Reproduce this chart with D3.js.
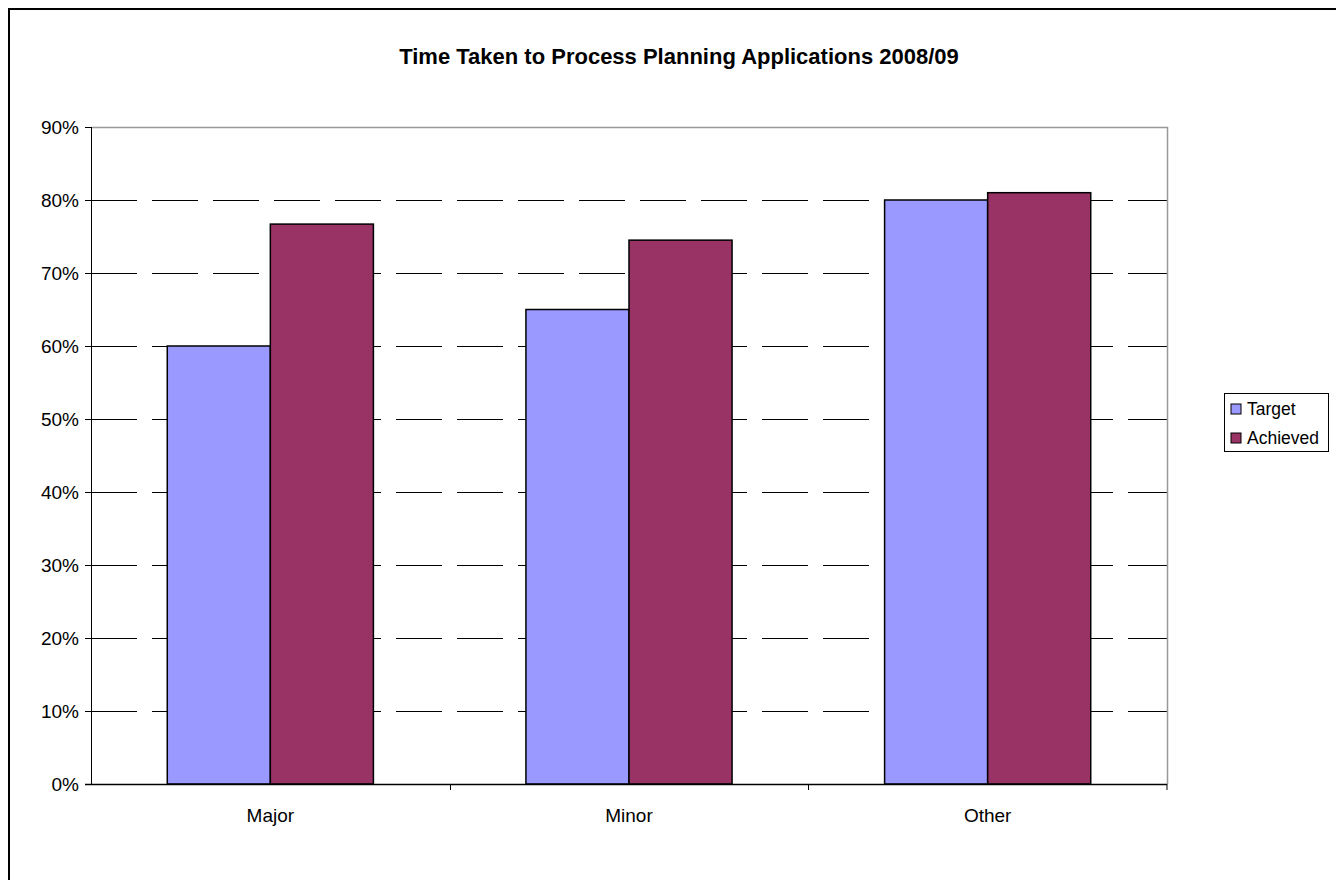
<!DOCTYPE html>
<html>
<head>
<meta charset="utf-8">
<script src="https://cdn.jsdelivr.net/npm/d3@7"></script>
<style>
  body { margin: 0; background: #fff; }
  svg { font-family: "Liberation Sans", Arial, sans-serif; }
</style>
</head>
<body>
<svg id="chart-svg" width="1336" height="880"></svg>
<script>
var categories = ["Major", "Minor", "Other"];
var seriesNames = ["Target", "Achieved"];
var target = [0.60, 0.65, 0.80];
var achieved = [0.767, 0.745, 0.81];
var yTicks = [0, 0.1, 0.2, 0.3, 0.4, 0.5, 0.6, 0.7, 0.8, 0.9];
var colors = ["#9999ff", "#993366"];

var svg = d3.select("#chart-svg");

// outer chart border (only top/left visible in the crop)
svg.append("path")
    .attr("d", "M9,880 V9 H1336")
    .attr("fill", "none")
    .attr("stroke", "#000")
    .attr("stroke-width", 2);

svg.append("text")
    .attr("x", 679)
    .attr("y", 64)
    .attr("text-anchor", "middle")
    .attr("font-size", 22)
    .attr("font-weight", "bold")
    .text("Time Taken to Process Planning Applications 2008/09");

var pLeft = 91, pRight = 1167, pTop = 127, pBottom = 784;

var x = d3.scaleBand().domain(categories).range([pLeft, pRight]);
var xs = d3.scaleBand().domain(seriesNames).range([0, x.bandwidth()]).paddingOuter(0.74);
var y = d3.scaleLinear().domain([0, 0.9]).range([pBottom, pTop]);

var rows = categories.map((c, i) => ({ cat: c, values: [target[i], achieved[i]] }));

// grid
svg.append("g").selectAll("line")
    .data(yTicks.filter(t => t > 0 && t < 0.9))
    .enter().append("line")
    .attr("x1", pLeft).attr("x2", pRight)
    .attr("y1", d => Math.round(y(d)) + 0.5).attr("y2", d => Math.round(y(d)) + 0.5)
    .attr("stroke", "#000")
    .attr("stroke-dasharray", "46,15");

// plot border top/right
svg.append("path")
    .attr("d", `M${pLeft},${pTop + 0.5} H${pRight + 0.5} V${pBottom}`)
    .attr("fill", "none")
    .attr("stroke", "#999")
    .attr("stroke-width", 1.5);

// bars
var groups = svg.append("g").selectAll("g")
    .data(rows).enter().append("g")
    .attr("transform", d => `translate(${x(d.cat)},0)`);

groups.selectAll("rect")
    .data(d => d.values.map((v, j) => ({ key: seriesNames[j], v: v, j: j })))
    .enter().append("rect")
    .attr("x", d => xs(d.key))
    .attr("width", xs.bandwidth())
    .attr("y", d => y(d.v))
    .attr("height", d => y(0) - y(d.v))
    .attr("fill", d => colors[d.j])
    .attr("stroke", "#000")
    .attr("stroke-width", 1.5);

// y axis
var yAxis = d3.axisLeft(y)
    .tickValues(yTicks)
    .tickFormat(d3.format(".0%"))
    .tickSize(6)
    .tickPadding(6);
var gy = svg.append("g").attr("transform", `translate(${pLeft},0)`).call(yAxis);
gy.select(".domain").attr("stroke", "#000").attr("d", `M0.5,${pTop}V${pBottom}`);
gy.selectAll(".tick line").attr("stroke", "#000");
gy.selectAll("text").attr("font-size", 19).attr("fill", "#000").attr("dy", "0.35em")
    .attr("font-family", "'Liberation Sans', Arial, sans-serif");

// x axis
var xAxis = d3.axisBottom(x).tickSize(0).tickPadding(25);
var gx = svg.append("g").attr("transform", `translate(0,${pBottom})`).call(xAxis);
gx.select(".domain").attr("stroke", "#000").attr("stroke-width", 1.5).attr("d", `M${pLeft - 6},0.5H${pRight}`);
gx.selectAll("text").attr("font-size", 19).attr("fill", "#000").attr("dy", "0.71em")
    .attr("font-family", "'Liberation Sans', Arial, sans-serif");
// category separator ticks
gx.append("g").selectAll("line")
    .data(categories.slice(1).concat(["_end"]))
    .enter().append("line")
    .attr("x1", d => d === "_end" ? pRight : Math.round(x(d)) + 0.5)
    .attr("x2", d => d === "_end" ? pRight : Math.round(x(d)) + 0.5)
    .attr("y1", 0).attr("y2", 6)
    .attr("stroke", "#000");

// legend
var lg = svg.append("g").attr("transform", "translate(1224,393)");
lg.append("rect")
    .attr("x", 0.5).attr("y", 0.5).attr("width", 104).attr("height", 58)
    .attr("fill", "#fff").attr("stroke", "#000");
var items = lg.selectAll(".item").data(seriesNames).enter().append("g")
    .attr("transform", (d, i) => `translate(7,${11 + i * 29})`);
items.append("rect")
    .attr("width", 10).attr("height", 10)
    .attr("fill", (d, i) => colors[i])
    .attr("stroke", "#000");
items.append("text")
    .attr("x", 16).attr("y", 5)
    .attr("dy", "0.36em")
    .attr("font-size", 17.5)
    .text(d => d);
</script>
</body>
</html>
